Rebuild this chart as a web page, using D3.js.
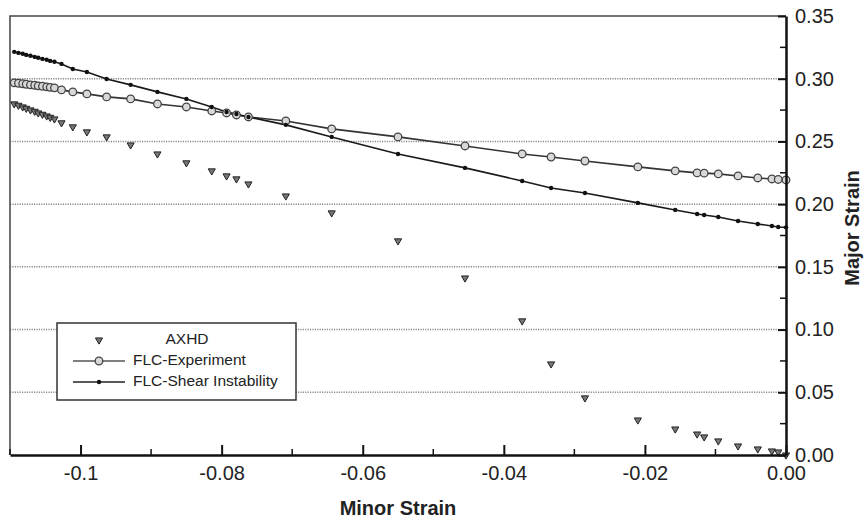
<!DOCTYPE html>
<html>
<head>
<meta charset="utf-8">
<script src="https://cdn.jsdelivr.net/npm/d3@7"></script>
<style>
  body { margin: 0; background: #fff; }
  svg { display: block; font-family: "Liberation Sans", Arial, sans-serif; }
</style>
</head>
<body>
<div id="chart"></div>
<script>
// shared minor strain positions of the three curves
const minorStrain = [
  -0.1094, -0.1088, -0.1082, -0.1077, -0.1071, -0.1065, -0.1060, -0.1054, -0.1048, -0.1043, -0.1037,
  -0.1027, -0.1011, -0.0991, -0.0963, -0.0929, -0.0891, -0.0850, -0.0814, -0.0793, -0.0779, -0.0762,
  -0.0709, -0.0644, -0.0550, -0.0455, -0.0374, -0.0333, -0.0285, -0.0210, -0.0157, -0.0126, -0.0116,
  -0.0096, -0.0068, -0.0040, -0.0020, -0.0011, 0.0
];
const axhd = [
  0.2799, 0.2788, 0.2775, 0.2764, 0.2751, 0.2740, 0.2727, 0.2716, 0.2703, 0.2692, 0.2679,
  0.2648, 0.2616, 0.2576, 0.2536, 0.2472, 0.2400, 0.2329, 0.2265, 0.2225, 0.2201, 0.2161,
  0.2065, 0.1930, 0.1707, 0.1411, 0.1069, 0.0726, 0.0455, 0.0279, 0.0207, 0.0167, 0.0144,
  0.0112, 0.0072, 0.0048, 0.0032, 0.0024, 0.0000
];
const flcExperiment = [
  0.2967, 0.2964, 0.2960, 0.2956, 0.2951, 0.2948, 0.2943, 0.2940, 0.2935, 0.2931, 0.2927,
  0.2911, 0.2895, 0.2879, 0.2855, 0.2839, 0.2799, 0.2775, 0.2743, 0.2727, 0.2711, 0.2695,
  0.2663, 0.2600, 0.2536, 0.2464, 0.2400, 0.2376, 0.2344, 0.2297, 0.2265, 0.2249, 0.2247,
  0.2241, 0.2225, 0.2209, 0.2201, 0.2197, 0.2193
];
const flcShear = [
  0.3214, 0.3206, 0.3199, 0.3190, 0.3183, 0.3174, 0.3167, 0.3158, 0.3151, 0.3142, 0.3135,
  0.3118, 0.3078, 0.3054, 0.2998, 0.2951, 0.2895, 0.2839, 0.2775, 0.2735, 0.2719, 0.2695,
  0.2632, 0.2536, 0.2400, 0.2289, 0.2185, 0.2129, 0.2089, 0.2010, 0.1954, 0.1922, 0.1914,
  0.1898, 0.1866, 0.1842, 0.1826, 0.1818, 0.1815
];

const xTicks = [-0.1, -0.08, -0.06, -0.04, -0.02, 0];
const xTickLabels = ["-0.1", "-0.08", "-0.06", "-0.04", "-0.02", "0.00"];
const xMinorTicks = [-0.11, -0.09, -0.07, -0.05, -0.03, -0.01];
const yTicks = [0, 0.05, 0.10, 0.15, 0.20, 0.25, 0.30, 0.35];
const yMinorTicks = [0.025, 0.075, 0.125, 0.175, 0.225, 0.275, 0.325];
const gridValues = [0.05, 0.10, 0.15, 0.20, 0.25, 0.30];
const legendLabels = ["AXHD", "FLC-Experiment", "FLC-Shear Instability"];

var width = 864, height = 519;
var plot = {left: 10, right: 786, top: 16, bottom: 455};

var svg = d3.select("#chart").append("svg")
    .attr("width", width)
    .attr("height", height);

var x = d3.scaleLinear().domain([-0.11, 0]).range([plot.left, plot.right]);
var y = d3.scaleLinear().domain([0, 0.35]).range([plot.bottom, plot.top]);

// dotted grid
svg.append("g").selectAll("line")
  .data(gridValues)
  .enter().append("line")
    .attr("x1", plot.left).attr("x2", plot.right)
    .attr("y1", d => y(d)).attr("y2", d => y(d))
    .attr("stroke", "#8a8a8a")
    .attr("stroke-width", 1.5)
    .attr("stroke-dasharray", "1.2,1.2");

var pts = function(vals) {
  return minorStrain.map((m, i) => ({x: m, y: vals[i]}));
};

var line = d3.line()
  .x(d => x(d.x))
  .y(d => y(d.y));

svg.append("path")
  .datum(pts(flcExperiment))
  .attr("fill", "none")
  .attr("stroke", "#333")
  .attr("stroke-width", 1.6)
  .attr("d", line);

svg.append("path")
  .datum(pts(flcShear))
  .attr("fill", "none")
  .attr("stroke", "#1a1a1a")
  .attr("stroke-width", 1.6)
  .attr("d", line);

var tri = d3.symbol().type(d3.symbolTriangle).size(22);

svg.append("g").selectAll("path")
  .data(pts(axhd))
  .enter().append("path")
    .attr("d", tri)
    .attr("transform", d => "translate(" + x(d.x) + "," + y(d.y) + ") rotate(180)")
    .attr("fill", "#777")
    .attr("stroke", "#222")
    .attr("stroke-width", 1);

svg.append("g").selectAll("circle")
  .data(pts(flcExperiment))
  .enter().append("circle")
    .attr("cx", d => x(d.x))
    .attr("cy", d => y(d.y))
    .attr("r", 3.8)
    .attr("fill", "#d8d8d8")
    .attr("stroke", "#444")
    .attr("stroke-width", 1.3);

svg.append("g").selectAll("circle")
  .data(pts(flcShear))
  .enter().append("circle")
    .attr("cx", d => x(d.x))
    .attr("cy", d => y(d.y))
    .attr("r", 2.2)
    .attr("fill", "#111");

// frame top + left
svg.append("path")
  .attr("d", "M" + plot.left + "," + plot.bottom + "V" + plot.top + "H" + plot.right)
  .attr("fill", "none")
  .attr("stroke", "#444")
  .attr("stroke-width", 1.5);

// bottom axis, ticks pointing inward
var xAxis = svg.append("g")
    .attr("transform", "translate(0," + plot.bottom + ")")
    .call(d3.axisBottom(x)
      .tickValues(xTicks)
      .tickFormat((d, i) => xTickLabels[i])
      .tickSizeInner(-10)
      .tickSizeOuter(0)
      .tickPadding(11));

svg.append("g").selectAll("line")
  .data(xMinorTicks)
  .enter().append("line")
    .attr("x1", d => x(d)).attr("x2", d => x(d))
    .attr("y1", plot.bottom).attr("y2", plot.bottom - 6)
    .attr("stroke", "#111").attr("stroke-width", 1.5);

var yAxis = svg.append("g")
    .attr("transform", "translate(" + plot.right + ",0)")
    .call(d3.axisRight(y)
      .tickValues(yTicks)
      .tickFormat(d3.format(".2f"))
      .tickSizeInner(-8)
      .tickSizeOuter(0)
      .tickPadding(9));

svg.append("g").selectAll("line")
  .data(yMinorTicks)
  .enter().append("line")
    .attr("x1", plot.right).attr("x2", plot.right - 6)
    .attr("y1", d => y(d)).attr("y2", d => y(d))
    .attr("stroke", "#111").attr("stroke-width", 1.5);

[xAxis, yAxis].forEach(function(ax) {
  ax.select(".domain").attr("stroke", "#111").attr("stroke-width", 2.5);
  ax.selectAll(".tick line").attr("stroke", "#111").attr("stroke-width", 2);
  ax.selectAll(".tick text")
    .attr("fill", "#222")
    .style("font-size", "20px")
    .style("font-family", "'Liberation Sans', Arial, sans-serif");
});

svg.append("text")
  .attr("x", (plot.left + plot.right) / 2)
  .attr("y", 510)
  .attr("text-anchor", "middle")
  .attr("dominant-baseline", "middle")
  .attr("font-weight", "bold")
  .attr("font-size", "20px")
  .attr("fill", "#222")
  .text("Minor Strain");

svg.append("text")
  .attr("transform", "translate(854,228) rotate(-90)")
  .attr("text-anchor", "middle")
  .attr("dominant-baseline", "middle")
  .attr("font-weight", "bold")
  .attr("font-size", "20px")
  .attr("fill", "#222")
  .text("Major Strain");

// legend
var legend = svg.append("g").attr("transform", "translate(57,323)");
legend.append("rect")
  .attr("width", 239).attr("height", 77)
  .attr("fill", "#fff")
  .attr("stroke", "#333")
  .attr("stroke-width", 1.5);

var rows = legend.selectAll(".legend")
  .data(legendLabels)
  .enter().append("g")
    .attr("class", "legend")
    .attr("transform", (d, i) => "translate(0," + (17 + i * 21) + ")");

rows.filter((d, i) => i > 0).append("line")
  .attr("x1", 16).attr("x2", 68)
  .attr("stroke", (d, i) => i === 0 ? "#555" : "#222")
  .attr("stroke-width", 1.5);

rows.filter((d, i) => i === 0).append("path")
  .attr("d", tri)
  .attr("transform", "translate(42,0) rotate(180)")
  .attr("fill", "#777").attr("stroke", "#222");

rows.filter((d, i) => i === 1).append("circle")
  .attr("cx", 42).attr("r", 3.8)
  .attr("fill", "#d8d8d8").attr("stroke", "#444").attr("stroke-width", 1.3);

rows.filter((d, i) => i === 2).append("circle")
  .attr("cx", 42).attr("r", 2.2)
  .attr("fill", "#111");

rows.append("text")
  .attr("x", (d, i) => i === 0 ? 130 : 76)
  .attr("text-anchor", (d, i) => i === 0 ? "middle" : "start")
  .attr("dominant-baseline", "middle")
  .attr("font-size", "15.5px")
  .attr("fill", "#222")
  .text(d => d);
</script>
</body>
</html>
